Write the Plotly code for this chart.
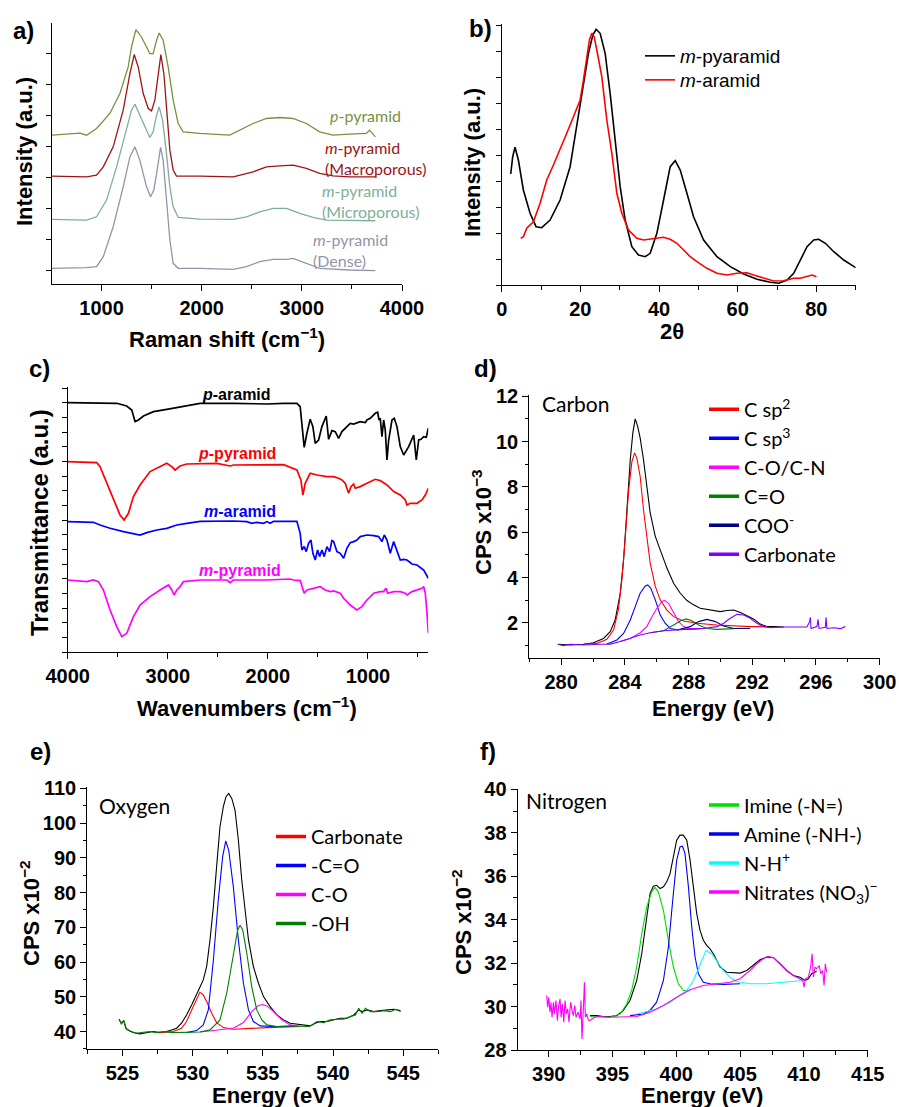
import plotly.graph_objects as go

W, H = 899, 1107

def fx(p):
    return p / W

def fy(p):
    return 1 - p / H

# ---------------- a) Raman ----------------
RAMAN_P_X = [505,784,850,950,1083,1183,1266,1299,1343,1399,1482,1515,1549,1575,1615,1665,1715,1765,1815,1981,2280,2380,2513,2646,2779,2912,3045,3178,3311,3477,3644,3677,3710,3734]
RAMAN_P_Y = [149,151,149,155.7,170.7,190.7,217.3,237.3,254.7,247.3,230.7,230.7,244,251.3,244,217.3,184,160.7,152.3,150.7,149,154,160.7,165.7,166.7,165.7,160.7,152.3,149,150,150.7,154,150.7,147.3]
RAMAN_MAC_X = [505,850,950,1017,1116,1216,1283,1326,1366,1416,1466,1499,1532,1565,1592,1622,1648,1682,1715,1748,1981,2314,2513,2646,2779,2912,3045,3178,3311,3477,3734]
RAMAN_MAC_Y = [108,107.3,109,117.3,137.3,174,210.7,229.7,217.3,190.7,175.7,173.3,184,207.3,229.7,210.7,174,134,114,108,108,107.3,112.3,117.3,118.3,119,115.7,110.7,108.3,107.3,107.3]
RAMAN_MIC_X = [505,850,950,1050,1150,1249,1299,1333,1382,1449,1482,1515,1549,1575,1609,1648,1682,1715,1765,1981,2314,2447,2580,2713,2846,2979,3112,3245,3477,3734]
RAMAN_MIC_Y = [64.7,64,67.3,84,117.3,154,174,180,169,152.3,146.7,152.3,169,177.3,164,130.7,97.3,77.3,66.7,65,64.7,67.3,72.3,75.7,75.7,70.7,66.7,64,64,63.3]
RAMAN_DEN_X = [505,850,950,1017,1116,1216,1283,1333,1382,1449,1489,1522,1555,1589,1615,1648,1682,1715,1765,1981,2314,2447,2580,2713,2846,2912,3045,3178,3477,3734]
RAMAN_DEN_Y = [15.7,16.3,17.3,27.3,57.3,97.3,127.3,137.3,124,97.3,87.3,94,114,136.7,124,84,44,20.7,15.7,15.7,14.7,17.3,22.3,24.7,24.7,25.7,20.7,15.7,14,13.3]

# ---------------- b) XRD ----------------
XRD_MPY_X = [2.29,2.80,3.39,4.24,5.51,7.21,8.74,10.18,12.30,14.85,17.39,19.09,20.79,22.06,23.16,24.01,25.03,26.30,27.57,28.85,30.12,31.39,33.09,34.78,36.48,37.75,39.45,41.15,42.84,44.12,45.39,47.09,48.78,51.33,54.72,58.12,61.51,64.90,68.30,70.42,72.54,74.24,75.93,77.63,79.33,80.60,82.29,84.42,86.96,90.0]
XRD_MPY_Y = [111,128.3,137.7,125,95,71.7,58.3,57.3,65,85,118.3,158.3,201.7,231.7,250,255.7,251.7,231.7,191.7,145,98.3,65,38.3,30,28.3,31.7,51.7,85,118.3,124.3,115,91.7,68.3,45,28.3,18.3,11,5.7,2.7,1.7,5,11.7,25,38.3,45,45.7,41.7,33.3,25,17.3]
XRD_MAR_X = [4.84,5.51,6.36,8.06,9.76,11.45,13.15,14.85,16.54,18.24,19.51,19.94,20.79,21.64,22.31,22.91,23.50,24.18,25.45,26.72,28.0,29.27,30.54,32.24,34.36,36.06,37.75,39.45,41.15,42.84,44.54,46.24,47.93,49.63,52.18,54.72,57.27,59.81,62.36,64.06,66.60,69.14,71.69,74.24,75.93,77.63,78.90,80.0]
XRD_MAR_Y = [46.7,48.3,56.7,63.3,81.7,105,120,135,151.7,168.3,181.7,185,205,228.3,245,251.7,248.3,235,208.3,165,131.7,91.7,71.7,55,46.7,45,45.7,46.7,47.7,45.7,41.7,35,28.3,23.3,16.7,11.7,10,11.7,12.3,10,6.7,4,4.3,6.7,6.7,8.3,10,8.3]

# ---------------- c) FTIR ----------------
FTIR_PAR_X = [4000,3743,3510,3410,3360,3327,3293,3243,3143,3010,2843,2677,2343,2010,1843,1710,1677,1660,1637,1610,1577,1550,1527,1493,1460,1417,1393,1360,1327,1293,1260,1210,1177,1143,1077,1027,1010,977,927,903,890,877,860,843,827,810,793,760,737,710,677,643,593,543,517,493,470,443,417,397]
FTIR_PAR_Y = [249.7,249.7,249,246.3,242.3,230.7,232.3,236.3,240.7,243,245.7,249,249,248.3,249,249,245.7,229,205,219,233,225.7,209,212.3,225.7,236.3,213,221.7,220.7,214,220.7,225.7,229,228.3,230.7,229.7,232.3,234,239,240,232.3,234,215.7,232.3,222.3,192.3,212.3,232.3,234,225.7,205.7,197.3,205.7,217.3,192.3,212.3,213,215.7,215,224]
FTIR_PPY_X = [4000,3710,3677,3610,3543,3477,3437,3393,3343,3277,3177,3077,3010,2960,2927,2877,2810,2510,2377,2343,2010,1843,1710,1670,1650,1627,1577,1510,1410,1343,1293,1260,1227,1193,1170,1143,1127,1077,1010,927,877,810,743,677,627,610,577,510,460,427,397]
FTIR_PPY_Y = [190.7,189.7,185.7,169,152.3,137.3,132.3,139,155.7,167.3,180.7,185.7,189,185.7,182.3,186.3,188.3,189,186.3,187.3,188,187.7,182.3,172.3,157.3,169,179,177.3,175.7,175.7,174,172.3,169,159,165.7,168.3,164,165.7,169,173,171.7,167.3,160.7,157.3,152.3,147.3,149,149,152.3,157.3,164]
FTIR_MAR_X = [4000,3743,3677,3577,3443,3343,3277,3210,3110,3010,2910,2810,2677,2343,2210,2160,2110,2043,2010,1977,1943,1710,1677,1660,1637,1617,1593,1570,1550,1527,1503,1483,1460,1437,1410,1383,1360,1343,1310,1277,1243,1210,1177,1143,1110,1077,1010,943,893,860,837,810,777,743,710,677,643,610,560,510,443,397]
FTIR_MAR_Y = [130.7,130,127.3,124,120.7,119,117.3,119.7,122.3,124,127.3,129,131,131.3,130.7,129,130,129,130.7,129,131,131,119,102.3,105.7,100.7,109,112.3,99,92.3,102.3,95.7,102.3,95.7,105.7,100.7,111.7,110.7,100.7,99,94,104,109.7,110.7,112.3,115.7,117.3,116.7,115.7,110.7,117.3,112.3,99,110.7,102.3,92.3,93,92.3,88.3,87.3,82.3,74]
FTIR_MPY_X = [4000,3877,3810,3743,3693,3643,3577,3510,3460,3410,3343,3277,3177,3077,2993,2960,2937,2910,2877,2843,2677,2410,2377,2343,2010,1777,1743,1677,1660,1637,1610,1543,1477,1427,1377,1343,1277,1243,1177,1110,1060,1010,943,877,843,820,803,743,677,627,610,560,510,460,443,427,410,397]
FTIR_MPY_Y = [72.3,71.7,70.7,72.3,70.7,62.3,42.3,25.7,15.7,19,35.7,47.3,55.7,62.3,67.3,62.3,57.3,62.3,65.7,70.7,72.3,72.3,69.7,72.3,72.3,73.3,72.3,71.7,65.7,59,62.3,64,65.7,62.3,60.7,61.3,59,54,47.3,42.3,45.7,52.3,59,60.7,60.7,64,59,60.7,60.7,59,57.3,60.7,62.3,64,65.7,59,39,19]

# ---------------- d) XPS C1s ----------------
C_ENV_X = [279.79,280.57,281.40,282.03,282.66,283.08,283.39,283.71,283.92,284.13,284.34,284.50,284.65,284.80,284.96,285.17,285.38,285.59,285.91,286.22,286.64,287.06,287.48,287.90,288.31,288.73,289.15,289.57,289.99,290.41,290.83,291.25,291.66,292.08,292.50,292.92,293.34,293.97]
C_ENV_Y = [1.06,1.03,1.06,1.13,1.32,1.62,2.13,3.31,4.78,6.99,9.20,10.38,11.0,10.68,10.16,9.20,8.02,6.85,5.82,5.23,4.42,3.75,3.31,2.99,2.80,2.65,2.60,2.55,2.50,2.55,2.57,2.46,2.32,2.18,1.95,1.84,1.84,1.82]
C_SP2_X = [281.40,282.24,282.87,283.29,283.60,283.81,284.02,284.23,284.44,284.61,284.75,284.96,285.17,285.38,285.59,285.91,286.22,286.64,287.06,287.69,288.52,289.78,290.83,291.87,292.92]
C_SP2_Y = [1.06,1.10,1.28,1.69,2.60,3.90,5.70,7.80,9.10,9.50,9.28,8.47,6.99,5.67,4.64,3.61,3.02,2.57,2.28,2.09,1.99,1.91,1.87,1.84,1.84]
C_SP3_X = [282.87,283.50,283.92,284.34,284.65,284.96,285.28,285.44,285.63,285.91,286.22,286.53,286.85,287.27,287.69,288.94]
C_SP3_Y = [1.07,1.25,1.54,2.13,2.72,3.31,3.63,3.68,3.53,3.02,2.35,1.99,1.76,1.70,1.72,1.76]
C_CON_X = [283.71,284.34,284.96,285.38,285.70,286.01,286.32,286.49,286.74,287.06,287.37,287.69,288.10,288.94]
C_CON_Y = [1.18,1.32,1.57,1.84,2.28,2.65,2.94,3.00,2.87,2.43,2.06,1.84,1.75,1.76]
C_CO_X = [285.59,286.43,287.06,287.48,287.85,288.21,288.63,289.15,289.78,290.83]
C_CO_Y = [1.57,1.66,1.91,2.09,2.18,2.10,1.91,1.76,1.72,1.75]
C_COO_X = [287.27,288.10,288.63,289.15,289.68,290.20,290.83,291.87]
C_COO_Y = [1.69,1.84,2.06,2.16,2.06,1.87,1.76,1.76]
C_CARB_X = [279.79,280.15,280.57,281.40,282.45,283.08,283.71,284.34,284.96,285.59,286.43,287.69,288.94,289.78,290.20,290.62,291.04,291.45,291.87,292.29,292.71,293.13,293.97,295.43,295.60,295.64,295.69,296.06,296.13,296.19,296.59,296.63,296.69,297.11,297.53,297.84]
C_CARB_Y = [1.06,1.00,1.06,1.03,1.06,1.07,1.18,1.32,1.47,1.57,1.66,1.72,1.76,1.84,1.99,2.21,2.38,2.35,2.21,1.99,1.84,1.79,1.82,1.82,2.06,2.25,1.76,1.84,2.16,1.76,1.81,2.25,1.76,1.79,1.75,1.84]

# ---------------- e) XPS O1s ----------------
O_ENV_X = [524.76,524.93,525.10,525.24,525.52,525.76,526.24,526.71,527.19,527.67,528.14,528.50,528.86,529.21,529.57,529.93,530.29,530.52,530.76,531.0,531.24,531.48,531.71,531.95,532.19,532.38,532.57,532.79,533.02,533.26,533.50,533.74,533.98,534.33,534.69,535.05,535.29,535.52,536.0,536.48,536.95,537.43,537.90,538.38,538.74,539.10,539.57,540.05,540.52,541.0,541.48,541.83,542.07,542.43,542.90,543.38,543.86,544.33,544.81]
O_ENV_Y = [43.55,42.40,43.16,40.96,40.19,39.71,39.33,39.71,40.0,39.71,40.0,40.48,40.96,42.40,44.79,47.67,51.03,52.75,54.86,58.70,66.37,75.95,87.46,98.96,104.72,107.59,108.55,107.11,103.76,95.13,83.62,74.04,66.37,58.70,53.90,50.07,48.63,47.19,44.79,43.36,42.40,42.21,41.92,41.63,42.40,42.88,42.88,43.36,43.84,43.84,44.79,46.23,45.75,46.23,45.75,46.04,46.23,46.42,46.04]
O_CARB_X = [527.67,528.62,529.21,529.57,529.93,530.29,530.52,530.76,531.0,531.36,531.71,532.19,532.90,535.29,537.67]
O_CARB_Y = [39.71,40.0,40.96,42.88,46.23,49.59,51.31,50.55,48.63,45.27,42.59,41.15,40.67,41.15,41.44]
O_CEO_X = [529.57,530.29,530.76,531.12,531.48,531.83,532.14,532.36,532.57,532.90,533.26,533.62,533.98,534.33,534.81,535.76,537.19]
O_CEO_Y = [39.71,40.29,41.92,46.23,60.61,77.87,90.34,94.84,92.25,81.71,66.37,53.90,46.23,42.88,41.63,41.44,41.44]
O_CO_X = [530.52,531.71,532.90,533.62,534.21,534.69,534.98,535.29,535.76,536.36,536.95,537.67]
O_CO_Y = [39.90,40.48,40.96,42.59,45.75,47.48,47.77,47.38,45.75,43.36,41.92,41.44]
O_OH_X = [524.76,524.93,525.10,525.29,525.64,526.0,526.48,526.95,527.43,527.90,528.62,529.57,530.52,531.24,531.95,532.43,532.90,533.21,533.38,533.57,533.86,534.21,534.57,534.93,535.29,536.0,536.95,537.67,538.26,538.50,538.86,539.33,539.81,540.29,540.76,541.24,541.60,541.83,542.07,542.31,542.67,543.14,543.62,544.10,544.45,544.81]
O_OH_Y = [43.55,42.21,43.16,40.67,40.0,39.52,39.81,40.0,39.71,40.0,39.71,39.71,39.90,40.48,43.36,51.03,62.53,69.24,70.58,69.24,62.53,52.94,46.23,43.36,41.92,41.44,41.63,41.63,41.44,41.92,42.88,42.59,43.36,43.55,43.55,44.31,44.79,46.71,45.27,46.71,45.75,45.75,46.04,45.75,46.42,45.75]

# ---------------- f) XPS N1s ----------------
N_ENV_X = [393.24,393.76,394.28,394.81,395.33,395.85,396.37,396.90,397.29,397.68,397.94,398.20,398.46,398.73,398.99,399.25,399.51,399.77,400.03,400.29,400.55,400.82,401.08,401.34,401.60,401.86,402.12,402.38,402.64,402.90,403.17,403.43,403.95,404.47,405.0,405.52,406.04,406.56,407.08,407.61,408.13,408.65,409.17,409.70,410.09,410.35,410.61,411.0]
N_ENV_Y = [29.58,29.58,29.54,29.54,29.58,29.82,30.28,31.20,32.43,34.12,35.20,35.54,35.58,35.43,35.51,35.74,36.12,36.89,37.66,37.89,37.89,37.66,36.74,35.51,34.28,33.51,33.05,32.82,32.66,32.43,32.12,31.82,31.58,31.55,31.54,31.66,31.89,32.15,32.28,32.25,31.97,31.66,31.43,31.35,31.20,31.28,31.51,31.63]
N_IMI_X = [393.24,394.81,395.59,396.11,396.50,396.90,397.29,397.68,398.07,398.33,398.59,398.99,399.38,399.77,400.16,400.55,401.08]
N_IMI_Y = [29.54,29.51,29.66,30.12,30.74,31.82,33.35,34.58,35.28,35.48,35.28,34.43,33.05,31.82,31.05,30.74,30.74]
N_AMI_X = [396.37,397.42,397.94,398.46,398.99,399.38,399.72,400.03,400.29,400.48,400.68,400.95,401.21,401.47,401.73,402.12,402.64,403.69,405.0]
N_AMI_Y = [29.58,29.66,29.82,30.20,31.20,32.74,34.89,36.74,37.35,37.38,37.05,35.51,33.66,32.28,31.51,31.12,31.05,31.02,31.05]
N_NH_X = [396.90,398.46,399.51,400.29,400.82,401.34,401.86,402.33,402.77,403.17,403.69,404.21,404.73,405.78,407.08,408.39,409.96]
N_NH_Y = [29.66,29.89,30.20,30.51,30.74,31.20,31.97,32.58,32.43,32.12,31.66,31.35,31.15,31.05,31.05,31.12,31.20]
N_NO3_X = [389.84,389.92,390.0,390.10,390.18,390.26,390.37,390.44,390.57,390.68,390.78,390.89,390.97,391.07,391.18,391.28,391.38,391.49,391.59,391.72,391.83,391.93,392.04,392.14,392.30,392.46,392.53,392.61,392.72,392.80,392.87,392.98,393.11,393.24,393.37,393.76,394.81,395.85,396.90,397.94,398.99,400.03,401.08,402.12,403.17,404.21,405.0,405.78,406.30,406.82,407.22,407.61,408.13,408.65,409.17,409.70,409.91,410.01,410.12,410.35,410.53,410.64,410.74,410.87,411.0,411.21,411.32,411.47,411.58,411.68,411.79]
N_NO3_Y = [30.51,29.97,30.43,29.74,30.20,29.51,30.20,29.66,30.28,29.35,30.05,30.35,29.51,30.12,29.28,30.28,29.66,29.89,29.28,30.20,29.82,29.58,30.05,29.51,29.74,29.43,30.28,28.51,29.97,31.12,29.51,29.66,29.38,29.35,29.43,29.54,29.51,29.51,29.54,29.74,30.05,30.43,30.77,30.97,31.05,31.12,31.28,31.66,31.97,32.20,32.31,32.25,31.97,31.66,31.43,31.28,31.20,30.89,31.28,31.35,31.82,32.43,31.35,31.82,31.74,31.89,31.51,31.66,30.97,31.97,31.58]

# ---------------- figure ----------------
fig = go.Figure()

def line(x, y, color, ax, width=1.1, name=None):
    fig.add_trace(go.Scatter(x=x, y=y, mode="lines", line=dict(color=color, width=width),
                             xaxis="x" + ax, yaxis="y" + ax, showlegend=False, name=name or "",
                             hoverinfo="skip"))

def legend_item(name, color, ax, legend, width=3.5):
    fig.add_trace(go.Scatter(x=[None], y=[None], mode="lines", line=dict(color=color, width=width),
                             xaxis="x" + ax, yaxis="y" + ax, name=name, legend=legend, showlegend=True))

# a
A_GREEN, A_RED, A_TEAL, A_GREY = "#76933C", "#9E1414", "#7EAE9C", "#9494A8"
line(RAMAN_P_X, RAMAN_P_Y, A_GREEN, "", 1.3)
line(RAMAN_MAC_X, RAMAN_MAC_Y, A_RED, "", 1.3)
line(RAMAN_MIC_X, RAMAN_MIC_Y, A_TEAL, "", 1.3)
line(RAMAN_DEN_X, RAMAN_DEN_Y, A_GREY, "", 1.3)

# b
fig.add_trace(go.Scatter(x=XRD_MPY_X, y=XRD_MPY_Y, mode="lines", line=dict(color="black", width=1.6),
                         xaxis="x2", yaxis="y2", name="<i>m</i>-pyaramid", legend="legend"))
fig.add_trace(go.Scatter(x=XRD_MAR_X, y=XRD_MAR_Y, mode="lines", line=dict(color="#FF0000", width=1.6),
                         xaxis="x2", yaxis="y2", name="<i>m</i>-aramid", legend="legend2"))

# c
line(FTIR_PAR_X, FTIR_PAR_Y, "black", "3", 1.7)
line(FTIR_PPY_X, FTIR_PPY_Y, "#FF0000", "3", 1.7)
line(FTIR_MAR_X, FTIR_MAR_Y, "#0000FF", "3", 1.7)
line(FTIR_MPY_X, FTIR_MPY_Y, "#FF00FF", "3", 1.7)

# d
D_COLORS = ["#FF0000", "#0000FF", "#FF00FF", "#008000", "#000080", "#7F00FF"]
D_NAMES = ["C sp<sup>2</sup>", "C sp<sup>3</sup>", "C-O/C-N", "C=O", "COO<sup>-</sup>", "Carbonate"]
line(C_ENV_X, C_ENV_Y, "black", "4")
for (xx, yy), c in zip([(C_SP2_X, C_SP2_Y), (C_SP3_X, C_SP3_Y), (C_CON_X, C_CON_Y),
                        (C_CO_X, C_CO_Y), (C_COO_X, C_COO_Y), (C_CARB_X, C_CARB_Y)], D_COLORS):
    line(xx, yy, c, "4")
for n, c in zip(D_NAMES, D_COLORS):
    legend_item(n, c, "4", "legend3")

# e
E_COLORS = ["#FF0000", "#0000FF", "#FF00FF", "#008000"]
E_NAMES = ["Carbonate", "-C=O", "C-O", "-OH"]
line(O_ENV_X, O_ENV_Y, "black", "5")
for (xx, yy), c in zip([(O_CARB_X, O_CARB_Y), (O_CEO_X, O_CEO_Y), (O_CO_X, O_CO_Y), (O_OH_X, O_OH_Y)], E_COLORS):
    line(xx, yy, c, "5")
for n, c in zip(E_NAMES, E_COLORS):
    legend_item(n, c, "5", "legend4")

# f
F_COLORS = ["#00DD00", "#0000EE", "#00FFFF", "#FF00FF"]
F_NAMES = ["Imine (-N=)", "Amine (-NH-)", "N-H<sup>+</sup>", "Nitrates (NO<sub>3</sub>)<sup>\u2212</sup>"]
line(N_ENV_X, N_ENV_Y, "black", "6")
for (xx, yy), c in zip([(N_IMI_X, N_IMI_Y), (N_AMI_X, N_AMI_Y), (N_NH_X, N_NH_Y), (N_NO3_X, N_NO3_Y)], F_COLORS):
    line(xx, yy, c, "6")
for n, c in zip(F_NAMES, F_COLORS):
    legend_item(n, c, "6", "legend5")

# ---------------- axes ----------------
BOLD = dict(family="Liberation Sans, Arial", size=20, color="black", weight="bold")

def axis(domain, rng, anchor, dtick, tick0=0, labels=True, minor=None, ticklen=6):
    d = dict(domain=domain, range=rng, anchor=anchor, showline=True, linecolor="black", linewidth=1.3,
             ticks="outside", ticklen=ticklen, tickwidth=1.3, tickcolor="black", showgrid=False,
             zeroline=False, tickfont=BOLD, tickmode="linear", tick0=tick0, dtick=dtick,
             showticklabels=labels, fixedrange=True, automargin=False)
    if minor:
        d["minor"] = dict(ticks="outside", ticklen=3.5, tickwidth=1.1, tickcolor="black",
                          tickmode="linear", tick0=tick0, dtick=minor, showgrid=False)
    return d

fig.update_layout(
    template="none",
    xaxis=axis([fx(52), fx(402)], [505, 4000], "y", 1000, minor=500),
    yaxis=axis([fy(284), fy(23)], [0, 261.3], "x", 31, tick0=13.33, labels=False, ticklen=5),
    xaxis2=axis([fx(501.7), fx(855.7)], [0, 90], "y2", 20, minor=10),
    yaxis2=axis([fy(285), fy(24)], [0, 261], "x2", 26, labels=False, ticklen=5),
    xaxis3=axis([fx(67.7), fx(428.3)], [4000, 397], "y3", 1000, minor=500),
    yaxis3=axis([fy(652.3), fy(387.3)], [0, 265], "x3", 14.667, labels=False, ticklen=5),
    xaxis4=axis([fx(529.3), fx(879.7)], [278, 300], "y4", 4, minor=2),
    yaxis4=axis([fy(657.7), fy(395)], [0.47, 12.05], "x4", 2, minor=1),
    xaxis5=axis([fx(87.3), fx(438.3)], [522.5, 547.5], "y5", 5, minor=2.5),
    yaxis5=axis([fy(1049.3), fy(787.3)], [34.9, 110.3], "x5", 10, minor=5),
    xaxis6=axis([fx(517.7), fx(867.7)], [387.57, 415], "y6", 5, minor=2.5),
    yaxis6=axis([fy(1050), fy(789.3)], [28, 40], "x6", 2, minor=1),
)

LEG_BASE = dict(xanchor="left", yanchor="middle", bgcolor="rgba(0,0,0,0)", borderwidth=0,
                itemclick=False, itemdoubleclick=False)
fig.update_layout(
    legend=dict(x=fx(640), y=fy(56), font=dict(family="Liberation Sans, Arial", size=19, color="black"), **LEG_BASE),
    legend2=dict(x=fx(640), y=fy(80), font=dict(family="Liberation Sans, Arial", size=19, color="black"), **LEG_BASE),
    legend3=dict(x=fx(704), y=fy(481.7), font=dict(family="Lato", size=20, color="black"), **LEG_BASE),
    legend4=dict(x=fx(271), y=fy(880), font=dict(family="Lato", size=20, color="black"), **LEG_BASE),
    legend5=dict(x=fx(704), y=fy(848.5), font=dict(family="Lato", size=20, color="black"), **LEG_BASE),
)

# ---------------- annotations ----------------
anns = []

def pann(text, x, y, size=22, angle=0, xanchor="center", family="Liberation Sans, Arial", weight="bold", color="black"):
    anns.append(dict(text=text, x=fx(x), y=fy(y), xref="paper", yref="paper", showarrow=False,
                     xanchor=xanchor, yanchor="middle", textangle=angle,
                     font=dict(family=family, size=size, color=color, weight=weight)))

def dann(text, x, y, ax, color, size=16, xanchor="left", family="Lato", weight="normal"):
    anns.append(dict(text=text, x=x, y=y, xref="x" + ax, yref="y" + ax, showarrow=False,
                     xanchor=xanchor, yanchor="middle", align="left",
                     font=dict(family=family, size=size, color=color, weight=weight)))

# panel letters
for t, x, y in [("a)", 23, 30), ("b)", 480, 29), ("c)", 39, 368), ("d)", 486, 368), ("e)", 40, 751), ("f)", 488, 751)]:
    pann(t, x, y, size=24)

# axis titles
pann("Raman shift (cm<sup>\u22121</sup>)", 227, 338)
pann("Intensity (a.u.)", 25, 152, angle=-90)
pann("2\u03b8", 672, 332)
pann("Intensity (a.u.)", 473, 163, angle=-90)
pann("Wavenumbers (cm<sup>\u22121</sup>)", 247, 707)
pann("Transmittance (a.u.)", 40, 523, size=24, angle=-90)
pann("Energy (eV)", 713, 708)
pann("CPS x10<sup>\u22123</sup>", 482, 522, angle=-90)
pann("Energy (eV)", 273, 1095)
pann("CPS x10<sup>\u22122</sup>", 30, 913, angle=-90)
pann("Energy (eV)", 702, 1095)
pann("CPS x10<sup>\u22122</sup>", 462, 922, angle=-90)

# element names
pann("Carbon", 540, 403, size=21, xanchor="left", family="Lato", weight="normal")
pann("Oxygen", 97, 805, size=21, xanchor="left", family="Lato", weight="normal")
pann("Nitrogen", 524, 800, size=21, xanchor="left", family="Lato", weight="normal")

# Raman labels
dann("<i>p</i>-pyramid", 3264, 169, "", A_GREEN)
dann("<i>m</i>-pyramid<br>(Macroporous)", 3209, 125.7, "", A_RED)
dann("<i>m</i>-pyramid<br>(Microporous)", 3186, 82.8, "", A_TEAL)
dann("<i>m</i>-pyramid<br>(Dense)", 3094, 34, "", A_GREY)

# FTIR labels
for t, x, y, c in [("<i>p</i>-aramid", 2310, 258, "black"), ("<i>p</i>-pyramid", 2307, 199, "#FF0000"),
                   ("<i>m</i>-aramid", 2277, 140.7, "#0000FF"), ("<i>m</i>-pyramid", 2283, 81.7, "#FF00FF")]:
    dann(t, x, y, "3", c, size=16, xanchor="center", family="Liberation Sans, Arial", weight="bold")

fig.update_layout(
    annotations=anns,
    width=W, height=H, margin=dict(l=0, r=0, t=0, b=0, pad=0),
    paper_bgcolor="white", plot_bgcolor="white",
    showlegend=True,
)

fig.write_html("out.html", config={"displayModeBar": False},
               post_script="document.body.style.margin='0';document.body.style.overflow='hidden';")
